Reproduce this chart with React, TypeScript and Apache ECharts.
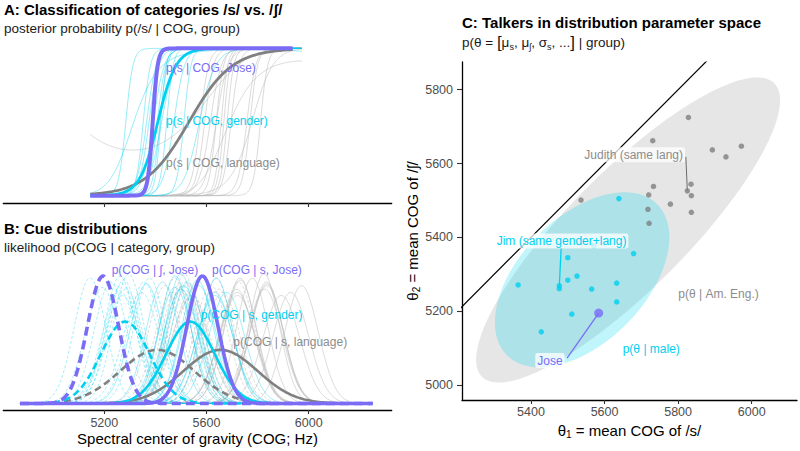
import React, { useEffect, useRef } from "react";
import * as echarts from "echarts";

// ---------- data ----------
// Panel C: talker means (θ1 = mean COG of /s/, θ2 = mean COG of /ʃ/)
const grayTalkerS = [5828, 5731, 5893, 5972, 5930, 5835, 5825, 5836, 5733, 5720, 5536, 5779, 5718, 5836, 5721];
const grayTalkerSh = [5725, 5662, 5637, 5647, 5618, 5544, 5526, 5513, 5538, 5515, 5501, 5490, 5476, 5468, 5438];
const cyanTalkerS = [5639, 5571, 5679, 5500, 5525, 5500, 5633, 5365, 5477, 5477, 5565, 5633, 5511, 5428];
const cyanTalkerSh = [5505, 5377, 5356, 5345, 5295, 5284, 5276, 5271, 5269, 5261, 5260, 5225, 5192, 5144];
// talker standard deviations (estimated from curve widths in panel B)
const grayTalkerSdS = [68, 62, 72, 66, 70, 64, 60, 66, 63, 70, 74, 62, 68, 65, 72];
const grayTalkerSdSh = [64, 70, 62, 68, 66, 72, 65, 60, 70, 64, 68, 66, 62, 70, 66];
const cyanTalkerSdS = [62, 66, 70, 60, 64, 68, 72, 65, 61, 67, 63, 70, 66, 64];
const cyanTalkerSdSh = [66, 62, 64, 70, 60, 68, 63, 72, 65, 61, 69, 64, 67, 62];

// Group-level distributions: language, gender, Jose
const groupKeys = ["language", "gender", "Jose"];
const groupMuS = [5655, 5537, 5584];
const groupMuSh = [5407, 5282, 5195];
const groupSd = [145, 95, 61];

// Named talkers
const judith = [5825, 5526];
const jim = [5477, 5269];
const jose = [5584, 5195];

// Ellipses in parameter space: [centre θ1, centre θ2, semi-major, semi-minor, angle deg]
const ellipseAmEng = [5664, 5420, 562, 160, 45];
const ellipseMale = [5539, 5285, 289, 170, 45];

// Axis ticks
const cogTicks = [5200, 5600, 6000];
const theta1Ticks = [5400, 5600, 5800, 6000];
const theta2Ticks = [5000, 5200, 5400, 5600, 5800];

// ---------- style ----------
const FONT = "'Liberation Sans', Arial, Helvetica, sans-serif";
const PURPLE = "#7B6CF6";
const CYAN = "#00D0F0";
const GRAY = "#808080";
const TICKTXT = "#4d4d4d";
const SD_REF = 61;

function range(lo: number, hi: number, step: number) {
  const a: number[] = [];
  for (let x = lo; x <= hi + 1e-9; x += step) a.push(x);
  return a;
}
const dens = (x: number, m: number, s: number) => (SD_REF / s) * Math.exp(-0.5 * ((x - m) / s) ** 2);
const post = (x: number, ms: number, ss: number, mh: number, sh: number) => {
  const la = -0.5 * ((x - ms) / ss) ** 2 - Math.log(ss);
  const lb = -0.5 * ((x - mh) / sh) ** 2 - Math.log(sh);
  return 1 / (1 + Math.exp(lb - la));
};

const line = (data: number[][], axis: number, color: string, width: number, type: any, opacity: number, z: number) => ({
  type: "line",
  xAxisIndex: axis,
  yAxisIndex: axis,
  data,
  showSymbol: false,
  symbol: "none",
  silent: true,
  z,
  lineStyle: { color, width, type, opacity },
});

function buildOption() {
  const series: any[] = [];
  const xsA = range(5145, 5975, 4);
  const xsAthick = range(5145, 5940, 4);
  const xsB = range(4870, 6250, 5);

  // ---- Panel A thin
  grayTalkerS.forEach((ms, i) => {
    series.push(line(xsA.map((x) => [x, post(x, ms, grayTalkerSdS[i], grayTalkerSh[i], grayTalkerSdSh[i])]), 0, "#bdbdbd", 1, "solid", 0.55, 2));
  });
  cyanTalkerS.forEach((ms, i) => {
    series.push(line(xsA.map((x) => [x, post(x, ms, cyanTalkerSdS[i], cyanTalkerSh[i], cyanTalkerSdSh[i])]), 0, CYAN, 1, "solid", 0.4, 3));
  });
  // ---- Panel A thick
  const thickCol = [GRAY, CYAN, PURPLE];
  const thickW = [2.8, 2.8, 4];
  groupKeys.forEach((_, g) => {
    series.push(line(xsAthick.map((x) => [x, post(x, groupMuS[g], groupSd[g], groupMuSh[g], groupSd[g])]), 0, thickCol[g], thickW[g], "solid", 1, 10 + g));
  });

  // ---- Panel B thin
  grayTalkerS.forEach((ms, i) => {
    series.push(line(xsB.map((x) => [x, dens(x, grayTalkerSh[i], grayTalkerSdSh[i])]), 1, "#bdbdbd", 0.9, [3, 2], 0.6, 2));
    series.push(line(xsB.map((x) => [x, dens(x, ms, grayTalkerSdS[i])]), 1, "#bdbdbd", 0.9, "solid", 0.6, 2));
  });
  cyanTalkerS.forEach((ms, i) => {
    series.push(line(xsB.map((x) => [x, dens(x, cyanTalkerSh[i], cyanTalkerSdSh[i])]), 1, CYAN, 0.9, [3, 2], 0.4, 3));
    series.push(line(xsB.map((x) => [x, dens(x, ms, cyanTalkerSdS[i])]), 1, CYAN, 0.9, "solid", 0.4, 3));
  });
  const dashB = [[7, 4], [7, 4], [9, 5]];
  const wB = [2.6, 2.6, 3.6];
  groupKeys.forEach((_, g) => {
    series.push(line(xsB.map((x) => [x, dens(x, groupMuSh[g], groupSd[g])]), 1, thickCol[g], wB[g], dashB[g], 1, 10 + g));
    series.push(line(xsB.map((x) => [x, dens(x, groupMuS[g], groupSd[g])]), 1, thickCol[g], wB[g], "solid", 1, 10 + g));
  });

  // ---- Panel C
  const ell = (e: number[], fill: string, z: number) => ({
    type: "custom",
    xAxisIndex: 2,
    yAxisIndex: 2,
    coordinateSystem: "cartesian2d",
    silent: true,
    z,
    data: [[e[0], e[1]]],
    renderItem: (_p: any, api: any) => {
      const phi = (e[4] * Math.PI) / 180;
      const pts: number[][] = [];
      for (let i = 0; i < 200; i++) {
        const t = (i / 200) * 2 * Math.PI;
        const x = e[0] + e[2] * Math.cos(phi) * Math.cos(t) - e[3] * Math.sin(phi) * Math.sin(t);
        const y = e[1] + e[2] * Math.sin(phi) * Math.cos(t) + e[3] * Math.cos(phi) * Math.sin(t);
        pts.push(api.coord([x, y]));
      }
      return { type: "polygon", shape: { points: pts }, style: { fill, stroke: "none" } };
    },
  });
  series.push(ell(ellipseAmEng, "#e6e6e6", 1));
  series.push(ell(ellipseMale, "rgba(0,215,240,0.25)", 1));
  series.push({ ...line([[4800, 4800], [6300, 6300]], 2, "#000", 1.2, "solid", 1, 2), clip: true });

  // leader lines (label anchor -> talker)
  series.push(line([[5821, 5618], judith], 2, "#6b6b6b", 1, "solid", 1, 3));
  series.push(line([[5482, 5371], jim], 2, CYAN, 1.3, "solid", 1, 3));
  series.push(line([[5498, 5073], jose], 2, PURPLE, 1.3, "solid", 1, 3));

  series.push({
    type: "scatter", xAxisIndex: 2, yAxisIndex: 2, silent: true, z: 4, symbolSize: 5.5,
    itemStyle: { color: GRAY }, data: grayTalkerS.map((x, i) => [x, grayTalkerSh[i]]),
  });
  series.push({
    type: "scatter", xAxisIndex: 2, yAxisIndex: 2, silent: true, z: 4, symbolSize: 5.5,
    itemStyle: { color: CYAN }, data: cyanTalkerS.map((x, i) => [x, cyanTalkerSh[i]]),
  });
  series.push({
    type: "scatter", xAxisIndex: 2, yAxisIndex: 2, silent: true, z: 5, symbolSize: 9,
    itemStyle: { color: PURPLE }, data: [jose],
  });

  const tickLabel = { color: TICKTXT, fontSize: 12.5, fontFamily: FONT, formatter: (v: number) => String(v) };
  const axLine = { show: true, onZero: false, lineStyle: { color: "#000", width: 1.3 } };
  const axTick = (vals: number[], len: number) => ({ show: true, customValues: vals, length: len, lineStyle: { color: "#333", width: 1.1 } });

  const t = (text: string, x: number, y: number, font: string, fill: string, extra: any = {}) => ({
    type: "text", x, y, z: 100, silent: true,
    style: { text, font, fill, align: "left", verticalAlign: "middle", ...extra },
  });
  const box = { backgroundColor: "rgba(255,255,255,0.75)", padding: [2, 2, 1, 2], borderRadius: 2 };

  const graphic = [
    t("A: Classification of categories /s/ vs. /ʃ/", 4, 9.8, `bold 15px ${FONT}`, "#000"),
    t("posterior probability p(/s/ | COG, group)", 4, 28.6, `13.5px ${FONT}`, "#1a1a1a"),
    t("B: Cue distributions", 4, 228.2, `bold 15px ${FONT}`, "#000"),
    t("likelihood p(COG | category, group)", 4, 247, `13.5px ${FONT}`, "#1a1a1a"),
    t("C: Talkers in distribution parameter space", 462, 22.4, `bold 15px ${FONT}`, "#000"),
    t("", 462, 42.6, `13.5px ${FONT}`, "#1a1a1a", {
      text: "{n|p(θ = }{b|[}{n|μ}{s|s}{n|, μ}{s|ʃ}{n|, σ}{s|s}{n|, ...}{b|]}{n| | group)}",
      rich: {
        n: { fontSize: 13.5, fontFamily: FONT, fill: "#1a1a1a", lineHeight: 18 },
        b: { fontSize: 17, fontFamily: FONT, fill: "#1a1a1a", lineHeight: 18 },
        s: { fontSize: 9, fontFamily: FONT, fill: "#1a1a1a", lineHeight: 10, verticalAlign: "bottom" },
      },
    }),
    // Panel A labels
    t("p(s | COG, Jose)", 166, 67.8, `12px ${FONT}`, PURPLE),
    t("p(s | COG, gender)", 166, 120.8, `12px ${FONT}`, CYAN),
    t("p(s | COG, language)", 166, 163.1, `12px ${FONT}`, "#8c8c8c"),
    // Panel B labels
    t("p(COG | ʃ, Jose)", 111.7, 269.5, `12px ${FONT}`, PURPLE),
    t("p(COG | s, Jose)", 212, 269.5, `12px ${FONT}`, PURPLE),
    t("p(COG | s, gender)", 200.7, 314.8, `12px ${FONT}`, CYAN),
    t("p(COG | s, language)", 233.3, 341.5, `12px ${FONT}`, "#8c8c8c"),
    // Panel C labels
    t("p(θ | Am. Eng.)", 678.3, 293.5, `12px ${FONT}`, "#8c8c8c"),
    t("p(θ | male)", 622.7, 348.5, `12px ${FONT}`, CYAN),
    t("Judith (same lang)", 582.3, 154.8, `12px ${FONT}`, "#8c8c8c", box),
    t("Jim (same gender+lang)", 494.7, 241.1, `12px ${FONT}`, CYAN, box),
    t("Jose", 535.3, 360.5, `12px ${FONT}`, PURPLE, box),
  ];

  return {
    animation: false,
    backgroundColor: "#fff",
    textStyle: { fontFamily: FONT },
    grid: [
      { left: 3.3, top: 41, width: 388.4, height: 162 },
      { left: 3.3, top: 238, width: 388.4, height: 172 },
      { left: 462, top: 62, width: 335, height: 338 },
    ],
    xAxis: [
      {
        gridIndex: 0, type: "value", min: 4804.7, max: 6324.9, axisLine: axLine,
        axisTick: axTick(cogTicks, 4),
        axisLabel: { show: false }, splitLine: { show: false },
      },
      {
        gridIndex: 1, type: "value", min: 4804.7, max: 6324.9, axisLine: axLine,
        axisTick: axTick(cogTicks, 4),
        axisLabel: { ...tickLabel, customValues: cogTicks, margin: 6 }, splitLine: { show: false },
        name: "Spectral center of gravity (COG; Hz)", nameLocation: "middle", nameGap: 21,
        nameTextStyle: { fontSize: 15, fontFamily: FONT, color: "#000" },
      },
      {
        gridIndex: 2, type: "value", min: 5212.4, max: 6123.2, axisLine: axLine,
        axisTick: axTick(theta1Ticks, 4),
        axisLabel: { ...tickLabel, customValues: theta1Ticks, margin: 5 }, splitLine: { show: false },
        name: "{a|θ}{s|1}{a| = mean COG of /s/}", nameLocation: "middle", nameGap: 19,
        nameTextStyle: {
          color: "#000",
          rich: {
            a: { fontSize: 15, fontFamily: FONT, color: "#000", lineHeight: 18 },
            s: { fontSize: 10, fontFamily: FONT, color: "#000", lineHeight: 10, verticalAlign: "bottom" },
          },
        },
      },
    ],
    yAxis: [
      { gridIndex: 0, type: "value", min: -0.05, max: 1.05, show: false },
      { gridIndex: 1, type: "value", min: -0.051, max: 1.298, show: false },
      {
        gridIndex: 2, type: "value", min: 4959.4, max: 5875.1, axisLine: axLine,
        axisTick: axTick(theta2Ticks, 5),
        axisLabel: { ...tickLabel, customValues: theta2Ticks, margin: 9 }, splitLine: { show: false },
        name: "{a|θ}{s|2}{a| = mean COG of /ʃ/}", nameLocation: "middle", nameGap: 40,
        nameTextStyle: {
          color: "#000",
          rich: {
            a: { fontSize: 15, fontFamily: FONT, color: "#000", lineHeight: 18 },
            s: { fontSize: 10, fontFamily: FONT, color: "#000", lineHeight: 10, verticalAlign: "bottom" },
          },
        },
      },
    ],
    series,
    graphic,
  };
}

export default function App() {
  const ref = useRef<HTMLDivElement>(null);
  useEffect(() => {
    if (!ref.current) return;
    const chart = echarts.init(ref.current, undefined, { renderer: "svg" });
    chart.setOption(buildOption() as any);
    return () => chart.dispose();
  }, []);
  return <div ref={ref} style={{ position: "fixed", left: 0, top: 0, width: 800, height: 451, background: "#fff" }} />;
}
